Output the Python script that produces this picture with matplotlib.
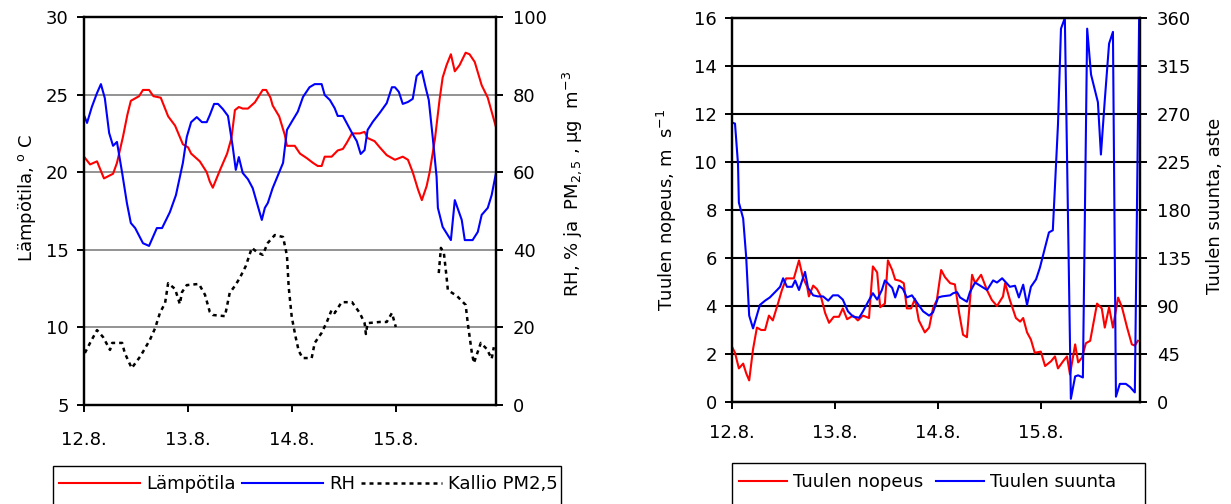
import numpy as np
import matplotlib.pyplot as plt
from matplotlib.lines import Line2D
from matplotlib.patches import Rectangle

plt.rcParams['font.family'] = 'DejaVu Sans'
plt.rcParams['font.size'] = 13
plt.rcParams['mathtext.default'] = 'regular'

# time axis: hours from 12.8. 00:00
paivat = ['12.8.', '13.8.', '14.8.', '15.8.']
paiva_h = [0, 24, 48, 72]

#%% Lämpötila, RH ja PM2,5
temp_h = [0, 1.4, 3.0, 4.6, 6.7, 7.6, 9.0, 10.0, 10.8, 12.7, 13.6, 15.0, 16.0, 17.7, 19.4,
          21.0, 22.8, 24.0, 24.7, 26.7, 28.3, 29.0, 29.7, 31.3, 33.0, 34.0, 34.8, 35.7,
          36.6, 37.8, 39.4, 41.2, 42.0, 43.0, 43.5, 45.0, 46.3, 46.8, 48.6, 49.8, 51.4,
          52.8, 53.9, 54.8, 55.5, 57.1, 58.5, 59.7, 60.6, 61.8, 63.6, 64.7, 65.4, 67.0,
          68.2, 69.8, 71.7, 73.5, 74.7, 75.8, 77.0, 77.9, 79.0, 79.7, 80.9, 82.0, 82.7,
          83.6, 84.6, 85.5, 86.6, 88.0, 88.9, 90.1, 91.7, 93.1, 95.0]
temp = [21.0, 20.5, 20.7, 19.6, 19.9, 20.6, 22.3, 23.7, 24.6, 24.9, 25.3, 25.3, 24.9, 24.8, 23.6,
        23.0, 21.8, 21.6, 21.2, 20.7, 20.0, 19.4, 19.0, 20.1, 21.2, 22.2, 24.0, 24.2,
        24.1, 24.1, 24.5, 25.3, 25.3, 24.8, 24.3, 23.6, 22.4, 21.7, 21.7, 21.2, 20.9,
        20.6, 20.4, 20.4, 21.0, 21.0, 21.4, 21.5, 21.9, 22.5, 22.5, 22.6, 22.2, 22.0,
        21.6, 21.1, 20.8, 21.0, 20.8, 20.0, 18.9, 18.2, 19.1, 20.0, 22.1, 24.7, 26.1,
        26.9, 27.6, 26.5, 26.9, 27.7, 27.6, 27.1, 25.6, 24.8, 22.9]

rh_h = [0, 0.7, 1.8, 3.0, 3.9, 4.8, 5.8, 6.7, 7.6, 8.8, 9.9, 10.8, 11.8, 13.6, 15.0, 15.9,
        16.8, 18.0, 19.8, 21.2, 22.8, 23.7, 24.7, 26.0, 27.2, 28.3, 29.0, 30.0, 30.9, 32.0,
        33.2, 34.3, 35.0, 35.7, 36.6, 37.8, 38.9, 41.0, 41.7, 42.4, 43.5, 45.9, 46.8, 47.9,
        49.3, 50.5, 52.0, 53.2, 54.8, 55.5, 56.7, 57.8, 58.5, 59.7, 60.8, 61.8, 62.9, 63.8,
        64.7, 65.4, 66.6, 68.2, 69.8, 71.0, 71.7, 72.6, 73.5, 74.7, 75.8, 76.7, 77.9, 78.8,
        79.5, 80.4, 81.3, 81.6, 82.7, 84.6, 85.5, 87.1, 87.8, 89.6, 90.8, 91.7, 93.1, 94.0, 95.0]
rh = [74.7, 72.7, 76.8, 80.4, 82.7, 79.1, 70.1, 66.8, 67.8, 59.8, 52.0, 46.9, 45.6, 41.7, 41.0, 43.3,
      45.6, 45.6, 49.7, 54.1, 62.4, 69.1, 72.9, 74.2, 72.9, 72.9, 74.7, 77.6, 77.6, 76.3,
      74.5, 66.5, 60.6, 63.9, 59.8, 58.2, 55.9, 47.7, 50.8, 52.1, 55.9, 62.4, 70.9, 73.0,
      75.6, 79.4, 81.9, 82.7, 82.7, 79.9, 78.6, 76.5, 74.5, 74.5, 72.2, 70.1, 68.0, 64.7,
      65.7, 70.9, 73.0, 75.3, 77.8, 81.9, 81.9, 80.7, 77.6, 78.1, 78.9, 84.8, 86.1, 81.7,
      78.6, 69.1, 58.8, 50.8, 45.9, 42.5, 52.8, 47.7, 42.5, 42.5, 44.6, 49.0, 50.8, 54.1, 59.8]

# PM2,5 (Kallio), missing data 15.8. afternoon
pm_h = [0.2, 1.4, 3.0, 4.4, 6.0, 6.5, 8.8, 9.4, 11.0, 12.9, 13.6, 15.2, 16.4, 17.5, 18.7, 19.4,
        21.0, 22.1, 22.6, 23.7, 26.5, 27.9, 29.0, 29.7, 32.5, 33.6, 34.8, 35.9, 37.3, 38.7,
        39.9, 41.2, 42.4, 44.0, 45.9, 46.8, 47.2, 47.9, 48.8, 49.5, 50.4, 52.5, 53.2, 54.8,
        56.0, 57.1, 57.8, 59.4, 61.8, 63.6, 64.7, 65.0, 65.4, 68.2, 69.8, 71.0, 71.9, 76.0,
        81.8, 82.3, 83.0, 83.6, 83.9, 86.0, 88.0, 88.5, 89.4, 89.9, 91.5, 92.9, 94.0, 94.5]
pm = [13.4, 16.0, 19.3, 17.5, 14.2, 16.0, 16.0, 13.4, 9.5, 12.4, 13.7, 16.8, 19.8, 23.7, 26.3, 31.4,
      29.9, 26.0, 29.1, 30.9, 31.2, 28.4, 24.0, 23.2, 22.9, 28.9, 30.7, 32.7, 35.8, 40.5,
      39.4, 38.7, 41.8, 43.8, 43.3, 38.5, 30.4, 22.7, 17.5, 14.0, 12.1, 12.1, 16.0, 18.6,
      21.4, 24.5, 23.7, 26.5, 26.5, 23.7, 21.1, 18.3, 21.1, 21.4, 21.4, 23.7, 20.1, np.nan,
      34.0, 40.5, 39.0, 33.0, 29.6, 28.1, 25.8, 21.0, 13.7, 10.8, 16.0, 14.4, 11.9, 14.9]

#%% Tuuli
ws_h = [0, 0.7, 1.6, 2.6, 3.3, 4.0, 4.9, 5.8, 6.8, 7.7, 8.6, 9.5, 10.7, 11.6, 12.6, 13.5, 14.4,
        15.6, 16.5, 17.5, 17.9, 18.9, 19.8, 20.7, 21.7, 22.6, 23.7, 24.9, 25.8, 26.8, 28.2,
        29.3, 30.5, 31.9, 32.8, 33.8, 34.5, 35.6, 36.3, 37.3, 38.0, 39.1, 40.0, 40.7, 41.7,
        42.6, 43.5, 44.9, 45.9, 46.8, 47.7, 48.7, 49.6, 50.8, 51.9, 52.9, 53.8, 54.7, 55.9,
        56.6, 58.0, 59.4, 60.5, 61.7, 63.1, 63.6, 64.7, 66.1, 67.1, 67.8, 68.7, 69.6, 70.5,
        71.9, 72.9, 74.3, 75.2, 75.9, 77.1, 78.0, 78.7, 79.9, 80.6, 81.5, 82.4, 83.4, 85.0,
        86.1, 86.8, 87.8, 88.7, 89.9, 90.8, 92.0, 93.1, 93.8, 94.5]
ws = [2.3, 2.05, 1.4, 1.6, 1.2, 0.9, 2.2, 3.1, 3.0, 3.0, 3.6, 3.4, 4.1, 4.65, 5.15, 5.15, 5.15,
      5.9, 5.2, 4.8, 4.4, 4.85, 4.7, 4.4, 3.7, 3.3, 3.55, 3.55, 3.9, 3.45, 3.6,
      3.4, 3.6, 3.5, 5.65, 5.4, 3.95, 4.1, 5.9, 5.5, 5.1, 5.05, 4.95, 3.9, 3.9,
      4.3, 3.4, 2.9, 3.1, 3.9, 4.25, 5.5, 5.2, 4.95, 4.9, 3.7, 2.8, 2.7, 5.3,
      4.95, 5.3, 4.65, 4.25, 4.0, 4.4, 4.95, 4.25, 3.5, 3.35, 3.5, 2.9, 2.6, 2.05,
      2.1, 1.5, 1.7, 1.9, 1.4, 1.7, 1.9, 1.15, 2.4, 1.65, 1.85, 2.45, 2.55, 4.1,
      3.9, 3.1, 3.95, 3.1, 4.35, 3.95, 3.1, 2.4, 2.35, 2.55]

wd_h = [0, 0.7, 1.4, 1.6, 2.6, 3.3, 4.0, 4.9, 6.5, 7.7, 8.8, 10.5, 11.2, 11.9, 12.8, 14.0, 14.7,
        15.6, 17.0, 17.7, 18.9, 20.0, 21.2, 22.4, 23.5, 24.7, 25.8, 27.0, 28.2, 29.6, 30.5,
        31.7, 32.8, 33.8, 34.9, 35.6, 37.3, 38.0, 38.9, 39.8, 40.7, 41.9, 43.1, 44.5, 45.9,
        46.8, 48.0, 48.9, 50.8, 51.5, 52.4, 53.1, 54.7, 55.4, 56.6, 58.2, 59.4, 60.8, 61.7,
        62.9, 63.8, 64.7, 65.9, 66.8, 67.8, 68.7, 69.6, 70.8, 71.7, 72.9, 73.8, 74.7, 75.9,
        76.6, 77.5, 78.9, 79.9, 80.6, 81.7, 82.7, 83.6, 85.2, 85.9, 86.8, 87.8, 88.7, 89.4,
        90.3, 91.7, 92.7, 93.8, 94.8]
wd = [262, 261, 223, 187, 172, 136, 81, 69, 91, 95, 98, 105, 108, 116, 108, 108, 114,
      105, 122, 107, 100, 99, 99, 95, 100, 100, 96, 85, 80, 79, 85,
      94, 102, 96, 105, 114, 107, 98, 109, 106, 98, 100, 93, 85, 81,
      84, 98, 99, 100, 102, 103, 98, 94, 103, 112, 108, 105, 114, 112,
      116, 112, 108, 109, 98, 110, 91, 108, 115, 126, 145, 159, 161, 260,
      350, 360, 3, 24, 25, 23, 350, 307, 281, 232, 283, 336, 347, 5,
      17, 17, 14, 9, 360]

W, H = 1231., 504.
def px_rect(x0, y0, x1, y1):
    # pixel box (origin top left) -> figure fraction [left, bottom, width, height]
    return [x0/W, 1 - y1/H, (x1 - x0)/W, (y1 - y0)/H]

fig = plt.figure(figsize=(12.31, 5.04), dpi=100)

def style_axes(ax, axr, xpad):
    ax.set_xlim(0, 95)
    ax.set_xticks(paiva_h)
    ax.set_xticklabels(paivat)
    for a in (ax, axr):
        for s in a.spines.values():
            s.set_linewidth(1.6)
            s.set_color('black')
        a.tick_params(direction='out', length=5, width=1.4, colors='black')
    ax.tick_params(axis='x', pad=xpad)
    ax.tick_params(axis='y', pad=6)
    axr.tick_params(axis='y', pad=7)
    ax.set_axisbelow(True)

# left panel
ax1 = fig.add_axes(px_rect(84, 17, 496, 405))
ax1.plot(temp_h, temp, color='red', lw=1.5)
ax1.set_ylim(5, 30)
ax1.set_yticks(range(5, 31, 5))
ax1.yaxis.grid(True, color='#808080', lw=1.2)
ax1b = ax1.twinx()
ax1b.plot(rh_h, rh, color='blue', lw=1.5)
ax1b.plot(pm_h, pm, color='black', lw=1.8, linestyle=(0, (1.6, 1.6)))
ax1b.set_ylim(0, 100)
ax1b.set_yticks(range(0, 101, 20))
style_axes(ax1, ax1b, 14)
ax1.set_ylabel('Lämpötila, $^{o}$ C')
ax1.yaxis.set_label_coords(-0.112, 0.533)
ax1b.set_ylabel('RH, % ja  PM$_{2,5}$ , µg  m$^{-3}$')
ax1b.yaxis.set_label_coords(1.155, 0.57)

# right panel
ax2 = fig.add_axes(px_rect(732, 18, 1140, 402))
ax2.plot(ws_h, ws, color='red', lw=1.5)
ax2.set_ylim(0, 16)
ax2.set_yticks(range(0, 17, 2))
ax2.yaxis.grid(True, color='black', lw=1.5)
ax2b = ax2.twinx()
ax2b.plot(wd_h, wd, color='blue', lw=1.5)
ax2b.set_ylim(0, 360)
ax2b.set_yticks(range(0, 361, 45))
style_axes(ax2, ax2b, 11)
ax2.set_ylabel('Tuulen nopeus, m  s$^{-1}$')
ax2.yaxis.set_label_coords(-0.130, 0.5)
ax2b.set_ylabel('Tuulen suunta, aste')
ax2b.yaxis.set_label_coords(1.162, 0.51)

# legends, boxes run past the lower edge
h1 = [Line2D([], [], color='red', lw=1.5),
      Line2D([], [], color='blue', lw=1.5),
      Line2D([], [], color='black', lw=1.8, linestyle=(0, (1.6, 1.6)))]
fig.legend(h1, ['Lämpötila', 'RH', 'Kallio PM2,5'], loc='upper left',
           bbox_to_anchor=(53/W, 1 - 469/H), ncol=3, frameon=False,
           handlelength=4.5, handletextpad=0.33, columnspacing=0.33,
           borderpad=0.33, borderaxespad=0)
fig.add_artist(Rectangle((53/W, -0.05), (561 - 53)/W, (504 - 466)/H + 0.05,
                         transform=fig.transFigure, fill=False, ec='black', lw=1))

h2 = [Line2D([], [], color='red', lw=1.5),
      Line2D([], [], color='blue', lw=1.5)]
fig.legend(h2, ['Tuulen nopeus', 'Tuulen suunta'], loc='upper left',
           bbox_to_anchor=(732/W, 1 - 466/H), ncol=2, frameon=False,
           handlelength=2.66, handletextpad=0.33, columnspacing=0.72,
           borderpad=0.39, borderaxespad=0)
fig.add_artist(Rectangle((732/W, -0.05), (1145 - 732)/W, (504 - 463)/H + 0.05,
                         transform=fig.transFigure, fill=False, ec='black', lw=1))

fig.savefig('out.png', dpi=100)
